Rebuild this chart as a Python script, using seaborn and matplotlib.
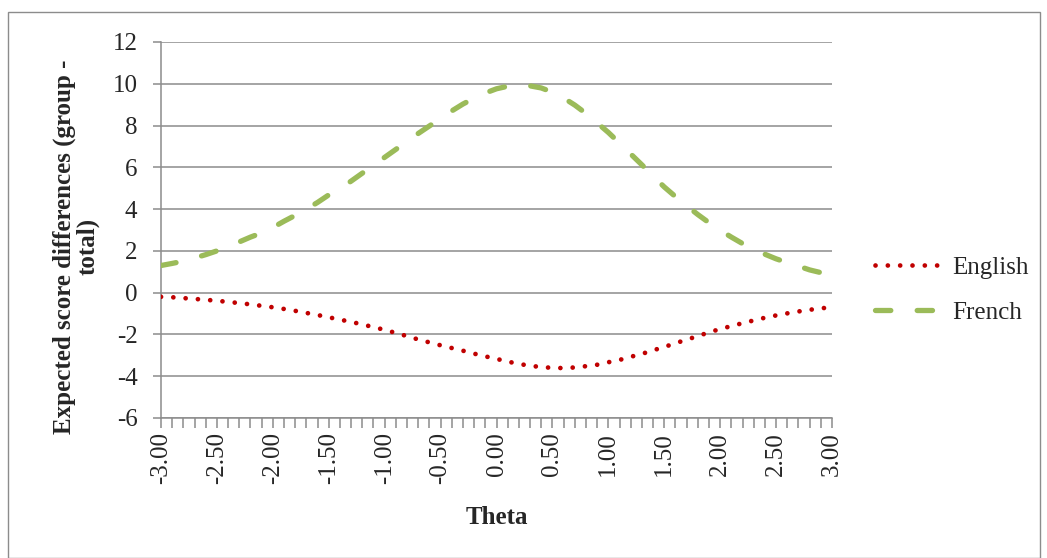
import numpy as np
import pandas as pd
import matplotlib
matplotlib.use("Agg")
import matplotlib.pyplot as plt
from matplotlib.ticker import MultipleLocator, FormatStrFormatter
from matplotlib.lines import Line2D
from matplotlib.patches import Rectangle
import seaborn as sns

# -----------------------------
# Data
# -----------------------------
theta = [round(-3.0 + 0.1 * i, 1) for i in range(61)]

english = [-0.20, -0.22, -0.26, -0.30, -0.34, -0.39, -0.44, -0.50, -0.56, -0.63,
           -0.70, -0.78, -0.87, -0.97, -1.07, -1.18, -1.29, -1.40, -1.52, -1.65,
           -1.78, -1.93, -2.08, -2.24, -2.38, -2.52, -2.65, -2.78, -2.92, -3.05,
           -3.17, -3.30, -3.41, -3.50, -3.56, -3.60, -3.61, -3.58, -3.52, -3.45,
           -3.33, -3.22, -3.07, -2.93, -2.76, -2.60, -2.42, -2.25, -2.08, -1.90,
           -1.74, -1.60, -1.46, -1.33, -1.20, -1.09, -0.99, -0.90, -0.82, -0.75,
           -0.70]

french = [1.30, 1.40, 1.51, 1.66, 1.82, 2.00, 2.20, 2.43, 2.66, 2.86,
          3.12, 3.42, 3.70, 4.00, 4.32, 4.68, 4.98, 5.34, 5.72, 6.08,
          6.48, 6.86, 7.24, 7.62, 7.98, 8.34, 8.70, 9.03, 9.31, 9.56,
          9.76, 9.88, 9.93, 9.90, 9.80, 9.60, 9.32, 8.98, 8.58, 8.13,
          7.67, 7.16, 6.64, 6.12, 5.58, 5.06, 4.60, 4.16, 3.74, 3.35,
          2.99, 2.66, 2.35, 2.08, 1.84, 1.62, 1.44, 1.27, 1.09, 0.96,
          0.85]

df = pd.DataFrame({"Theta": theta, "English": english, "French": french})

# -----------------------------
# Style
# -----------------------------
sns.set_style("white")
plt.rcParams['font.family'] = ['Liberation Serif', 'DejaVu Serif']
plt.rcParams['font.size'] = 18
plt.rcParams['axes.unicode_minus'] = False

red = "#C00000"
green = "#9BBB59"
grey = "#8C8C8C"
fs = 18

fig = plt.figure(figsize=(10.47, 5.58), dpi=100)
ax = fig.add_axes([161 / 1047, 1 - 418 / 558, (832 - 161) / 1047, (418 - 42) / 558])

sns.lineplot(data=df, x="Theta", y="English", ax=ax, color=red, lw=3.4,
             linestyle=(0, (0.01, 2.6)), dash_capstyle="round", zorder=3)
sns.lineplot(data=df, x="Theta", y="French", ax=ax, color=green, lw=3.8,
             linestyle=(0, (2.9, 5.0)), dash_capstyle="round", zorder=3)

ax.set_xlim(-3, 3)
ax.set_ylim(-6, 12)
ax.yaxis.set_major_locator(MultipleLocator(2))
ax.xaxis.set_major_locator(MultipleLocator(0.5))
ax.xaxis.set_minor_locator(MultipleLocator(0.1))
ax.xaxis.set_major_formatter(FormatStrFormatter("%.2f"))

ax.grid(axis="y", color=grey, lw=1.1)
ax.set_axisbelow(True)
for side in ["top", "right"]:
    ax.spines[side].set_visible(False)
for side in ["left", "bottom"]:
    ax.spines[side].set_color(grey)
    ax.spines[side].set_linewidth(1.1)

ax.tick_params(axis="y", which="major", length=6, width=1.1, color=grey,
               direction="out", left=True, pad=11, labelsize=fs)
ax.tick_params(axis="x", which="both", length=7, width=1.1, color=grey,
               direction="out", bottom=True, pad=3, labelsize=fs)
plt.setp(ax.get_xticklabels(), rotation=90)

ax.set_xlabel("Theta", fontweight="bold", fontsize=fs)
ax.xaxis.set_label_coords(0.5, -0.235)
ax.set_ylabel("Expected score differences (group -\ntotal)", fontweight="bold",
              fontsize=fs, multialignment="center", linespacing=1.0)
ax.yaxis.set_label_coords(-0.092, 0.455)

handles = [
    Line2D([], [], color=red, lw=3.4, linestyle=(0, (0.01, 2.6)), dash_capstyle="round"),
    Line2D([], [], color=green, lw=3.8, linestyle=(0, (2.9, 5.0)), dash_capstyle="round"),
]
fig.legend(handles, ["English", "French"], loc="center left",
           bbox_to_anchor=(875 / 1047, 1 - 290 / 558), frameon=False,
           fontsize=fs, handlelength=2.6, handletextpad=0.5,
           labelspacing=0.9, borderpad=0, borderaxespad=0)

# outer chart border
fig.patches.append(Rectangle((8 / 1047, 0), 1032 / 1047, 1 - 12 / 558,
                             transform=fig.transFigure, fill=False,
                             edgecolor=grey, lw=1.0))

fig.savefig("out.png", dpi=100)
